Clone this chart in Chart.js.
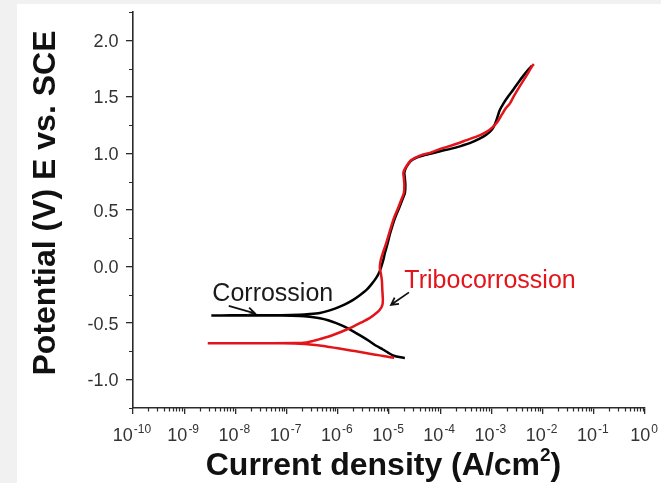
<!DOCTYPE html>
<html>
<head>
<meta charset="utf-8">
<title>Potentiodynamic polarization</title>
<script src="https://cdn.jsdelivr.net/npm/chart.js@4.4.0/dist/chart.umd.min.js"></script>
<style>
  html, body { margin: 0; padding: 0; background: #ffffff; }
  #wrap { width: 661px; height: 483px; }
</style>
</head>
<body>
<div id="wrap"><canvas id="polChart" width="661" height="483"></canvas></div>
<script>
// polarization curves, log10 of current density (A/cm2) vs potential (V vs SCE)
const seriesNames = ['Corrossion', 'Tribocorrossion'];

const corrLogI = [
  -4.69, -4.80, -4.92, -5.02, -5.12, -5.25, -5.38, -5.54, -5.70, -5.86, -6.03, -6.19, -6.35, -6.55, -6.75,
  -7.10, -7.60, -8.10, -8.47, -8.10, -7.60, -7.10, -6.75,
  -6.55, -6.35, -6.19, -6.03, -5.86, -5.70, -5.57, -5.44, -5.34, -5.25, -5.19, -5.15, -5.11, -5.08,
  -5.03, -4.98, -4.92, -4.87, -4.80, -4.74, -4.69, -4.68, -4.69, -4.70, -4.66, -4.57, -4.45, -4.33,
  -4.20, -4.00, -3.80, -3.60, -3.40, -3.23, -3.10, -3.00, -2.94, -2.89, -2.84, -2.76, -2.67, -2.57,
  -2.47, -2.37, -2.27, -2.21
];
const corrE = [
  -0.808, -0.800, -0.786, -0.760, -0.733, -0.700, -0.660, -0.615, -0.572, -0.533, -0.500, -0.474, -0.456, -0.443, -0.436,
  -0.433, -0.432, -0.431, -0.432, -0.431, -0.431, -0.430, -0.426,
  -0.420, -0.410, -0.392, -0.367, -0.334, -0.294, -0.253, -0.206, -0.155, -0.100, -0.050, 0.000, 0.060, 0.120,
  0.200, 0.290, 0.380, 0.445, 0.520, 0.590, 0.650, 0.720, 0.780, 0.830, 0.880, 0.935, 0.965, 0.982,
  0.996, 1.020, 1.040, 1.065, 1.095, 1.130, 1.165, 1.205, 1.250, 1.310, 1.380, 1.445, 1.505, 1.565,
  1.630, 1.690, 1.745, 1.775
];

const triboLogI = [
  -4.90, -5.05, -5.18, -5.35, -5.51, -5.67, -5.83, -6.00, -6.16, -6.32, -6.49, -6.65, -6.85,
  -7.30, -7.90, -8.54, -7.90, -7.30, -6.85,
  -6.61, -6.48, -6.35, -6.19, -6.03, -5.86, -5.70, -5.54, -5.38, -5.27, -5.18, -5.13, -5.12, -5.13,
  -5.14, -5.16, -5.18, -5.16, -5.12, -5.06, -5.00, -4.94, -4.89, -4.82, -4.76, -4.71, -4.70, -4.71,
  -4.72, -4.67, -4.57, -4.45, -4.33, -4.20, -4.00, -3.75, -3.50, -3.23, -3.08, -2.97, -2.88, -2.80,
  -2.72, -2.64, -2.55, -2.45, -2.34, -2.26, -2.20, -2.17
];
const triboE = [
  -0.806, -0.795, -0.785, -0.772, -0.759, -0.747, -0.735, -0.722, -0.711, -0.700, -0.691, -0.684, -0.680,
  -0.678, -0.677, -0.678, -0.677, -0.677, -0.676,
  -0.670, -0.657, -0.641, -0.620, -0.594, -0.563, -0.530, -0.494, -0.456, -0.420, -0.382, -0.340, -0.294, -0.210,
  -0.118, -0.060, -0.010, 0.060, 0.120, 0.200, 0.290, 0.380, 0.445, 0.520, 0.590, 0.650, 0.720, 0.780,
  0.830, 0.880, 0.940, 0.970, 0.990, 1.005, 1.040, 1.074, 1.115, 1.160, 1.195, 1.235, 1.280, 1.340,
  1.400, 1.440, 1.515, 1.590, 1.670, 1.730, 1.775, 1.790
];

// axis ticks
const xDecades = [-10, -9, -8, -7, -6, -5, -4, -3, -2, -1, 0];
const xExpLabels = ['-10', '-9', '-8', '-7', '-6', '-5', '-4', '-3', '-2', '-1', '0'];
const yMajor = [-1.0, -0.5, 0.0, 0.5, 1.0, 1.5, 2.0];
const yLabels = ['-1.0', '-0.5', '0.0', '0.5', '1.0', '1.5', '2.0'];
const yMinor = [-1.25, -0.75, -0.25, 0.25, 0.75, 1.25, 1.75, 2.25];

const FONT = '"Liberation Sans", Arial, sans-serif';
const axisColor = '#2b2b2b';
const red = '#e3141a';

function toPoints(logI, E) {
  return logI.map((lg, i) => ({ x: Math.pow(10, lg), y: E[i] }));
}

function arrow(ctx, x0, y0, x1, y1) {
  const ang = Math.atan2(y1 - y0, x1 - x0);
  const len = 8, spread = 0.5;
  ctx.beginPath();
  ctx.moveTo(x0, y0);
  ctx.lineTo(x1, y1);
  ctx.moveTo(x1 - len * Math.cos(ang - spread), y1 - len * Math.sin(ang - spread));
  ctx.lineTo(x1, y1);
  ctx.lineTo(x1 - len * Math.cos(ang + spread), y1 - len * Math.sin(ang + spread));
  ctx.stroke();
}

const decorations = {
  id: 'decorations',
  beforeDraw(chart) {
    const ctx = chart.ctx;
    ctx.save();
    ctx.fillStyle = '#f1f1f1';
    ctx.fillRect(0, 0, chart.width, chart.height);
    ctx.fillStyle = '#ffffff';
    ctx.fillRect(17, 4, chart.width - 17, chart.height - 4);
    ctx.restore();
  },
  afterDraw(chart) {
    const ctx = chart.ctx;
    const xs = chart.scales.x, ys = chart.scales.y;
    const area = chart.chartArea;
    ctx.save();

    // minor ticks
    ctx.strokeStyle = axisColor;
    ctx.lineWidth = 1.2;
    ctx.beginPath();
    for (let d = xDecades[0]; d < xDecades[xDecades.length - 1]; d++) {
      for (let m = 2; m <= 9; m++) {
        const px = Math.round(xs.getPixelForValue(m * Math.pow(10, d))) + 0.5;
        ctx.moveTo(px, area.bottom);
        ctx.lineTo(px, area.bottom + 3.5);
      }
    }
    yMinor.forEach(v => {
      const py = Math.round(ys.getPixelForValue(v)) + 0.5;
      ctx.moveTo(area.left, py);
      ctx.lineTo(area.left - 4, py);
    });
    ctx.stroke();

    // y tick labels
    ctx.fillStyle = '#333333';
    ctx.font = '18px ' + FONT;
    ctx.textAlign = 'right';
    ctx.textBaseline = 'alphabetic';
    yMajor.forEach((v, i) => {
      ctx.fillText(yLabels[i], 118.5, ys.getPixelForValue(v) + 6.5);
    });

    // x tick labels: 10 with raised exponent
    ctx.textAlign = 'left';
    xDecades.forEach((d, i) => {
      const px = xs.getPixelForValue(Math.pow(10, d));
      ctx.font = '18px ' + FONT;
      const wBase = ctx.measureText('10').width;
      ctx.font = '12px ' + FONT;
      const wExp = ctx.measureText(xExpLabels[i]).width;
      const x0 = px - (wBase + wExp + 1) / 2 - 1;
      ctx.font = '18px ' + FONT;
      ctx.fillText('10', x0, 441);
      ctx.font = '12px ' + FONT;
      ctx.fillText(xExpLabels[i], x0 + wBase + 1, 433);
    });

    // axis titles
    ctx.fillStyle = '#111111';
    const big = 'bold 32px ' + FONT, sup = 'bold 19px ' + FONT;
    const parts = [['Current density (A/cm', big, 475], ['2', sup, 461], [')', big, 475]];
    let total = 0;
    parts.forEach(p => { ctx.font = p[1]; total += ctx.measureText(p[0]).width; });
    let tx = 383.5 - total / 2;
    parts.forEach(p => {
      ctx.font = p[1];
      ctx.fillText(p[0], tx, p[2]);
      tx += ctx.measureText(p[0]).width;
    });

    ctx.save();
    ctx.translate(55, 203);
    ctx.rotate(-Math.PI / 2);
    ctx.font = big;
    ctx.textAlign = 'center';
    ctx.fillText('Potential (V) E vs. SCE', 0, 0);
    ctx.restore();

    // curve labels with arrows
    ctx.textAlign = 'left';
    ctx.font = '25px ' + FONT;
    ctx.fillStyle = '#1a1a1a';
    ctx.fillText(seriesNames[0], xs.getPixelForValue(Math.pow(10, -8.45)), ys.getPixelForValue(-0.307));
    ctx.fillStyle = red;
    ctx.fillText(seriesNames[1], xs.getPixelForValue(Math.pow(10, -4.70)), ys.getPixelForValue(-0.193));

    ctx.strokeStyle = '#111111';
    ctx.lineWidth = 1.8;
    arrow(ctx,
      xs.getPixelForValue(Math.pow(10, -8.13)), ys.getPixelForValue(-0.347),
      xs.getPixelForValue(Math.pow(10, -7.62)), ys.getPixelForValue(-0.413));
    arrow(ctx,
      xs.getPixelForValue(Math.pow(10, -4.61)), ys.getPixelForValue(-0.228),
      xs.getPixelForValue(Math.pow(10, -4.96)), ys.getPixelForValue(-0.338));

    ctx.restore();
  }
};

new Chart(document.getElementById('polChart'), {
  type: 'scatter',
  data: {
    datasets: [
      {
        label: seriesNames[0],
        data: toPoints(corrLogI, corrE),
        showLine: true,
        borderColor: '#000000',
        borderWidth: 2.5,
        pointRadius: 0,
        tension: 0.2,
        order: 2
      },
      {
        label: seriesNames[1],
        data: toPoints(triboLogI, triboE),
        showLine: true,
        borderColor: red,
        borderWidth: 2.5,
        pointRadius: 0,
        tension: 0.2,
        order: 1
      }
    ]
  },
  options: {
    responsive: false,
    devicePixelRatio: 1,
    animation: false,
    layout: { padding: { top: 12, right: 16, left: 0, bottom: 0 } },
    plugins: {
      legend: { display: false },
      tooltip: { enabled: false }
    },
    scales: {
      x: {
        type: 'logarithmic',
        position: 'bottom',
        min: 1e-10,
        max: 1,
        afterBuildTicks: s => { s.ticks = xDecades.map(d => ({ value: Math.pow(10, d), major: true })); },
        afterFit: s => { s.height = 75; },
        ticks: { display: false },
        grid: { drawOnChartArea: false, drawTicks: true, tickLength: 6, color: axisColor, lineWidth: 1.3 },
        border: { display: true, color: axisColor, width: 1.6 }
      },
      y: {
        type: 'linear',
        position: 'left',
        min: -1.25,
        max: 2.25,
        afterBuildTicks: s => { s.ticks = yMajor.map(v => ({ value: v })); },
        afterFit: s => { s.width = 133; },
        ticks: { display: false },
        grid: { drawOnChartArea: false, drawTicks: true, tickLength: 7, color: axisColor, lineWidth: 1.3 },
        border: { display: true, color: axisColor, width: 1.6 }
      }
    }
  },
  plugins: [decorations]
});
</script>
</body>
</html>
